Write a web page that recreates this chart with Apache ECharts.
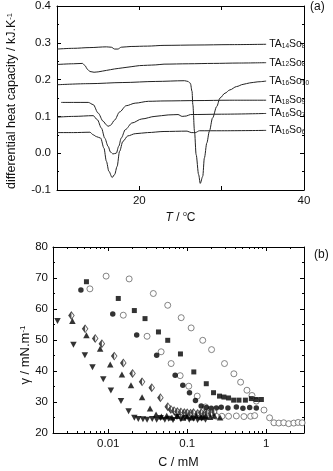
<!DOCTYPE html>
<html><head><meta charset="utf-8">
<script src="https://cdn.jsdelivr.net/npm/echarts@6/dist/echarts.min.js"></script>
<style>html,body{margin:0;padding:0;background:#fff}#c{width:333px;height:471px}</style>
</head><body><div id="c"></div>
<script>
// ---------- Panel (a): DSC curves, [T (°C), differential heat capacity (kJ/K)] ----------
const TA14So8 = [[10,0.283],[12,0.285],[14,0.287],[16.0,0.289],[16.6,0.288],[17.0,0.283],[17.4,0.283],[17.8,0.288],[19,0.290],[21,0.291],[23,0.293],[27,0.294],[31,0.295],[35.4,0.296]];
const TA12So8 = [[10,0.241],[12,0.243],[13.1,0.244],[13.4,0.238],[13.7,0.228],[14.0,0.222],[14.5,0.220],[15.0,0.221],[16,0.225],[17,0.229],[18,0.232],[19,0.235],[20,0.238],[21,0.239],[22,0.240],[23,0.242],[26,0.243],[29,0.244],[32,0.245],[35.4,0.246]];
const TA16So10 = [[10,0.186],[14,0.189],[18,0.192],[22,0.195],[25.5,0.197],[25.9,0.195],[26.2,0.190],[26.4,0.168],[26.5,0.132],[26.7,0.060],[26.9,-0.004],[27.2,-0.058],[27.4,-0.082],[27.7,-0.063],[27.9,-0.013],[28.2,0.028],[28.5,0.059],[28.9,0.096],[29.4,0.127],[29.8,0.150],[30.4,0.163],[31.0,0.172],[31.8,0.181],[32.6,0.187],[33.4,0.191],[34.4,0.194],[35.4,0.196]];
const TA18So9 = [[10.5,0.138],[12,0.138],[13.8,0.138],[14.4,0.132],[15.0,0.109],[15.6,0.087],[16.0,0.077],[16.2,0.073],[16.5,0.076],[17.0,0.090],[17.6,0.112],[18.4,0.129],[19.5,0.136],[21.1,0.141],[23,0.142],[27,0.143],[31,0.144],[35.4,0.144]];
const TA16So7 = [[10,0.098],[12,0.100],[14.4,0.102],[14.9,0.091],[15.4,0.068],[15.8,0.041],[16.2,0.019],[16.5,0.003],[16.8,-0.002],[17.2,0.000],[17.5,0.019],[17.8,0.041],[18.3,0.064],[19.1,0.082],[20.3,0.093],[21.9,0.100],[23.5,0.104],[24.7,0.105],[25.2,0.100],[25.7,0.101],[26.2,0.105],[30,0.106],[35.4,0.108]];
const TA16So6 = [[10,0.056],[12,0.056],[14.0,0.057],[14.4,0.050],[14.8,0.045],[15.3,0.041],[15.7,0.014],[16.0,-0.022],[16.3,-0.049],[16.7,-0.066],[17.0,-0.058],[17.3,-0.036],[17.6,0.005],[18.0,0.032],[18.6,0.047],[19.5,0.053],[21,0.056],[23,0.059],[25.8,0.060],[26.3,0.056],[26.8,0.056],[27.3,0.061],[30,0.061],[35.4,0.062]];
// curve names: [prefix, chain, middle, number]
const curveNames = [['TA','14','So','8'],['TA','12','So','8'],['TA','16','So','10'],['TA','18','So','9'],['TA','16','So','7'],['TA','16','So','6']];
const curves = [TA14So8, TA12So8, TA16So10, TA18So9, TA16So7, TA16So6];

// ---------- Panel (b): surface tension vs concentration ----------
const openBigC = [0.0094,0.0184,0.0372,0.0566,0.0838,0.112,0.157,0.203,0.296,0.389,0.473,0.569,0.659,0.748,0.935,1.10,1.25,1.44,1.66,1.92,2.23,2.53,2.84];
const openBigG = [70.6,69.7,65.0,61.2,57.2,53.9,49.9,46.9,42.4,39.1,36.4,33.8,32.1,30.3,27.4,24.9,23.3,23.2,23.3,23.0,23.2,23.4,23.3];
const squareC = [0.0053,0.0134,0.0214,0.0292,0.0432,0.0566,0.082,0.121,0.174,0.215,0.256,0.291,0.333,0.386,0.451,0.544,0.647,0.748,0.867];
const squareG = [68.8,63.4,59.5,56.9,52.6,49.9,45.5,39.7,35.9,33.0,31.9,31.6,31.3,30.6,30.6,30.6,31.1,30.8,30.8];
const dotC = [0.00451,0.0114,0.0229,0.041,0.0703,0.0878,0.1067,0.127,0.150,0.174,0.201,0.233,0.269,0.327,0.418,0.506,0.616,0.748];
const dotG = [66.1,58.4,51.6,45.1,38.6,35.4,33.0,30.5,28.7,28.2,28.0,28.1,28.3,28.1,28.4,28.0,28.2,28.1];
const openSmallC = [0.00586,0.0155,0.031,0.0467,0.0625,0.0813,0.1045,0.1336,0.170,0.20,0.233,0.274,0.333,0.418,0.521,0.634,0.713];
const openSmallG = [66.5,58.0,51.2,46.2,42.4,38.5,35.1,31.9,28.4,26.5,25.4,25.4,25.4,25.5,25.3,25.4,25.6];
const diamondC = [0.00342,0.0051,0.00684,0.0083,0.0119,0.0155,0.0203,0.0268,0.0355,0.0457,0.0566,0.062,0.068,0.075,0.083,0.092,0.10,0.11,0.12,0.135,0.15,0.165,0.18,0.2,0.22];
const diamondG = [57.9,53.6,50.5,48.8,44.8,42.6,39.2,36.5,34.6,31.4,28.5,27.6,27.2,26.9,26.8,26.6,26.5,26.4,26.6,26.3,26.5,26.2,26.5,26.4,26.8];
const triUpC = [0.00352,0.0053,0.0079,0.0106,0.0149,0.0194,0.0268,0.0338,0.0403,0.047,0.055,0.064,0.075,0.088,0.10,0.115,0.13,0.15,0.17,0.195,0.22,0.26];
const triUpG = [56.1,51.5,47.2,42.1,38.9,35.4,31.5,27.9,26.0,25.3,25.6,25.0,25.5,24.9,25.4,25.0,25.6,25.1,25.4,25.2,25.6,25.0];
const triDownC = [0.00228,0.00363,0.00506,0.00632,0.00865,0.0108,0.0145,0.0181,0.0214,0.0240,0.0275,0.031,0.036,0.041,0.046,0.052,0.058,0.066,0.074,0.083,0.094,0.106,0.12,0.135,0.152,0.17];
const triDownG = [56.1,48.5,45.1,41.2,37.3,33.7,30.3,27.0,24.9,24.5,24.4,24.3,24.5,24.3,24.8,24.3,24.6,24.2,25.2,24.4,24.8,24.3,24.6,24.2,24.7,24.3];

// tick labels
const cMajorTicks = [0.01, 0.1, 1];
const cMinorTicks = [0.003,0.004,0.005,0.006,0.007,0.008,0.009,0.02,0.03,0.04,0.05,0.06,0.07,0.08,0.09,0.2,0.3,0.4,0.5,0.6,0.7,0.8,0.9,2];
const cRange = [0.002, 3];
const tLabels = [20, 40];

const FONT = '"Liberation Sans", Arial, Helvetica, sans-serif';
const INK = '#111';
const lg = v => Math.log10(v);

const chart = echarts.init(document.getElementById('c'), null, {renderer: 'canvas'});

function frameAxis(extra) {
  return Object.assign({
    axisLine: {show: true, onZero: false, lineStyle: {color: '#000', width: 1}},
    axisTick: {show: true, inside: true, length: 4, lineStyle: {color: '#000', width: 1}},
    splitLine: {show: false},
    axisLabel: {color: INK, fontFamily: FONT, fontSize: 11.5}
  }, extra);
}

const xAxes = [
  // panel a bottom
  frameAxis({gridIndex: 0, type: 'value', min: 10, max: 40, interval: 10, position: 'bottom',
    axisLabel: {color: INK, fontFamily: FONT, fontSize: 11.5, margin: 5,
      formatter: v => tLabels.indexOf(Math.round(v)) >= 0 ? String(Math.round(v)) : ''},
    name: '{i|T} / {d|o}C', nameLocation: 'middle', nameGap: 21,
    nameTextStyle: {color: INK, fontFamily: FONT, fontSize: 12,
      rich: {i: {fontStyle: 'italic', fontFamily: FONT, fontSize: 12, color: INK, lineHeight: 14},
             d: {fontFamily: FONT, fontSize: 7, color: INK, verticalAlign: 'top', lineHeight: 8}}}}),
  // panel a top
  frameAxis({gridIndex: 0, type: 'value', min: 10, max: 40, interval: 10, position: 'top', axisLabel: {show: false}}),
  // panel b bottom major
  frameAxis({gridIndex: 1, type: 'value', min: lg(cRange[0]), max: lg(cRange[1]), position: 'bottom',
    axisLabel: {color: INK, fontFamily: FONT, fontSize: 11.5, margin: 5, customValues: cMajorTicks.map(lg),
      formatter: v => { const i = cMajorTicks.findIndex(t => Math.abs(lg(t) - v) < 1e-6); return i >= 0 ? String(cMajorTicks[i]) : ''; }},
    axisTick: {show: true, inside: true, length: 4, customValues: cMajorTicks.map(lg), lineStyle: {color: '#000'}},
    name: 'C / mM', nameLocation: 'middle', nameGap: 23,
    nameTextStyle: {color: INK, fontFamily: FONT, fontSize: 12.5}}),
  // panel b bottom minor
  frameAxis({gridIndex: 1, type: 'value', min: lg(cRange[0]), max: lg(cRange[1]), position: 'bottom',
    axisLine: {show: false}, axisLabel: {show: false},
    axisTick: {show: true, inside: true, length: 2, customValues: cMinorTicks.map(lg), lineStyle: {color: '#000'}}}),
  // panel b top major
  frameAxis({gridIndex: 1, type: 'value', min: lg(cRange[0]), max: lg(cRange[1]), position: 'top',
    axisLabel: {show: false},
    axisTick: {show: true, inside: true, length: 4, customValues: cMajorTicks.map(lg), lineStyle: {color: '#000'}}}),
  // panel b top minor
  frameAxis({gridIndex: 1, type: 'value', min: lg(cRange[0]), max: lg(cRange[1]), position: 'top',
    axisLine: {show: false}, axisLabel: {show: false},
    axisTick: {show: true, inside: true, length: 2, customValues: cMinorTicks.map(lg), lineStyle: {color: '#000'}}})
];

const yAxes = [
  frameAxis({gridIndex: 0, type: 'value', min: -0.1, max: 0.4, interval: 0.1, position: 'left',
    minorTick: {show: true, splitNumber: 2, length: 2, lineStyle: {color: '#000'}},
    axisLabel: {color: INK, fontFamily: FONT, fontSize: 11.5, margin: 6,
      formatter: v => (Math.abs(v) < 1e-9 ? 0 : v).toFixed(1)}}),
  frameAxis({gridIndex: 0, type: 'value', min: -0.1, max: 0.4, interval: 0.1, position: 'right',
    minorTick: {show: true, splitNumber: 2, length: 2, lineStyle: {color: '#000'}},
    axisLabel: {show: false}}),
  frameAxis({gridIndex: 1, type: 'value', min: 20, max: 80, interval: 10, position: 'left',
    minorTick: {show: true, splitNumber: 2, length: 2, lineStyle: {color: '#000'}},
    axisLabel: {color: INK, fontFamily: FONT, fontSize: 11.5, margin: 5}}),
  frameAxis({gridIndex: 1, type: 'value', min: 20, max: 80, interval: 10, position: 'right',
    minorTick: {show: true, splitNumber: 2, length: 2, lineStyle: {color: '#000'}},
    axisLabel: {show: false}})
];

const curveSeries = curves.map((d, k) => {
  const n = curveNames[k];
  return {
    type: 'line', xAxisIndex: 0, yAxisIndex: 0, data: d, showSymbol: false, symbol: 'none',
    smooth: 0.3, smoothMonotone: 'x', silent: true, animation: false,
    lineStyle: {color: '#222', width: 1},
    endLabel: {show: true, distance: 3, color: INK,
      formatter: () => '{n|' + n[0] + '}{s|' + n[1] + '}{n|' + n[2] + '}{s|' + n[3] + '}',
      rich: {n: {fontFamily: FONT, fontSize: 10.5, color: INK, lineHeight: 11},
             s: {fontFamily: FONT, fontSize: 6.5, color: INK, verticalAlign: 'bottom', lineHeight: 6}}}
  };
});

function scatter(C, G, style) {
  return Object.assign({
    type: 'scatter', xAxisIndex: 2, yAxisIndex: 2, animation: false, silent: true,
    data: C.map((c, i) => [lg(c), G[i]])
  }, style);
}

const openStyle = {symbol: 'circle', symbolSize: 6, itemStyle: {color: '#fff', borderColor: '#666', borderWidth: 1}};
const pointSeries = [
  scatter(openBigC, openBigG, openStyle),
  scatter(openSmallC, openSmallG, openStyle),
  scatter(squareC, squareG, {symbol: 'rect', symbolSize: 5, itemStyle: {color: '#000'}}),
  scatter(dotC, dotG, {symbol: 'circle', symbolSize: 5.5, itemStyle: {color: '#000'}}),
  scatter(diamondC, diamondG, {symbol: 'diamond', symbolSize: [5.5, 7.5], itemStyle: {color: '#fff', borderColor: '#333', borderWidth: 0.9}}),
  scatter(diamondC, diamondG, {symbol: 'path://M10,0 L0,10 L10,20 Z', symbolSize: [2.75, 7.5], symbolOffset: [-1.37, 0], itemStyle: {color: '#222'}}),
  scatter(triUpC, triUpG, {symbol: 'triangle', symbolSize: [6.5, 6], itemStyle: {color: '#000'}}),
  scatter(triDownC, triDownG, {symbol: 'triangle', symbolRotate: 180, symbolSize: [6.5, 6], itemStyle: {color: '#000'}})
];

function vTitle(text, x, y, size, supSize) {
  return {
    type: 'text', x: x, y: y, rotation: Math.PI / 2, silent: true,
    style: {text: text, fill: INK, fontFamily: FONT, fontSize: size, align: 'center', verticalAlign: 'middle',
      rich: {s: {fontFamily: FONT, fontSize: supSize, fill: INK, verticalAlign: 'top', lineHeight: supSize + 1}}}
  };
}

chart.setOption({
  animation: false,
  backgroundColor: '#fff',
  textStyle: {fontFamily: FONT},
  title: [
    {text: '(a)', left: 310, top: 1, padding: 0, textStyle: {fontFamily: FONT, fontSize: 12, fontWeight: 'normal', color: INK}},
    {text: '(b)', left: 314, top: 249, padding: 0, textStyle: {fontFamily: FONT, fontSize: 12, fontWeight: 'normal', color: INK}}
  ],
  grid: [
    {left: 57, right: 29, top: 6, height: 184},
    {left: 53, right: 29, top: 247, height: 186}
  ],
  xAxis: xAxes,
  yAxis: yAxes,
  series: curveSeries.concat(pointSeries),
  graphic: [
    vTitle('differential heat capacity / kJ.K{s|-1}', 12, 101, 12.5, 7.5),
    vTitle('\u03b3 / mN.m{s|-1}', 25, 355, 13, 8)
  ]
});
</script></body></html>
